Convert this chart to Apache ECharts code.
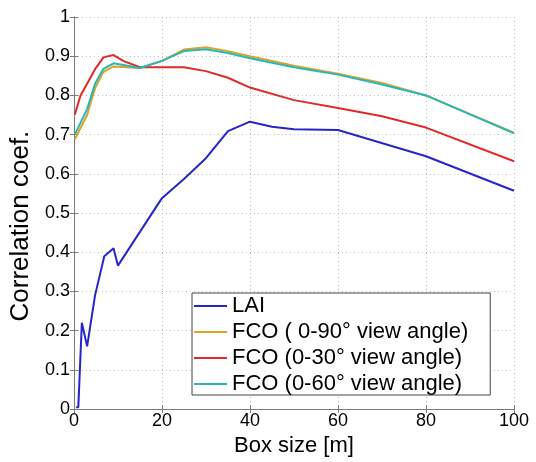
<!DOCTYPE html>
<html>
  <head>
    <meta charset="utf-8" />
    <title>Correlation coef. vs Box size</title>
    <script src="https://cdn.jsdelivr.net/npm/echarts@6/dist/echarts.min.js"></script>
    <style>
      html,
      body {
        margin: 0;
        padding: 0;
        background: #fff;
      }
      #chart {
        width: 536px;
        height: 462px;
      }
    </style>
  </head>
  <body>
    <div id="chart"></div>
    <script type="text/javascript">
      // 读图得到的数据
      const seriesNames = ["LAI", "FCO ( 0-90° view angle)", "FCO (0-30° view angle)", "FCO (0-60° view angle)"]
      const seriesColors = ["#2626c8", "#dea326", "#e02a2a", "#26b8b8"]

      const laiX = [0.5, 1, 1.8, 3, 4.8, 6.9, 9, 10, 20, 25, 30, 35, 40, 45, 50, 60, 80, 100]
      const laiY = [0.005, 0.005, 0.22, 0.16, 0.29, 0.39, 0.41, 0.366, 0.538, 0.587, 0.64, 0.709, 0.733, 0.72, 0.714, 0.712, 0.645, 0.557]

      const fco30X = [0.2, 1.5, 3, 4.8, 6.7, 9, 11.2, 15, 25, 30, 35, 40, 50, 60, 70, 80, 100]
      const fco30Y = [0.751, 0.8, 0.83, 0.867, 0.897, 0.903, 0.888, 0.872, 0.872, 0.862, 0.845, 0.82, 0.788, 0.768, 0.747, 0.718, 0.632]

      const fcoX = [0.2, 3, 4.8, 6.7, 9, 15, 20, 25, 30, 35, 40, 50, 60, 70, 80, 100]
      const fco90Y = [0.688, 0.75, 0.818, 0.86, 0.874, 0.87, 0.888, 0.917, 0.923, 0.913, 0.9, 0.876, 0.855, 0.832, 0.8, 0.705]
      const fco60Y = [0.7, 0.765, 0.83, 0.868, 0.882, 0.87, 0.888, 0.913, 0.918, 0.908, 0.895, 0.872, 0.853, 0.828, 0.8, 0.703]

      function pairs(xs, ys) {
        return xs.map((x, i) => [x, ys[i]])
      }

      const font = "'Liberation Sans', Arial, sans-serif"
      const axisColor = "#7a7a7a"

      const myChart = echarts.init(document.getElementById("chart"), null, { renderer: "canvas" })

      const sideAxis = {
        type: "value",
        min: 0,
        axisLine: { show: true, lineStyle: { color: axisColor } },
        axisTick: { show: true, inside: true, length: 4, lineStyle: { color: axisColor } },
        axisLabel: { show: false },
        splitLine: { show: false }
      }

      const option = {
        animation: false,
        backgroundColor: "#fff",
        grid: {
          left: 68.5,
          right: 22,
          top: 17,
          bottom: 45,
          containLabel: false
        },
        legend: {
          left: 192,
          top: 293,
          orient: "vertical",
          icon: "rect",
          itemWidth: 33,
          itemHeight: 2,
          itemGap: 4,
          padding: [2, 22, 0, 2],
          backgroundColor: "#fff",
          borderColor: "#444",
          borderWidth: 1,
          borderRadius: 0,
          textStyle: { fontFamily: font, fontSize: 22, color: "#000" },
          data: seriesNames
        },
        xAxis: [
          {
            type: "value",
            min: 0,
            max: 100,
            interval: 20,
            name: "Box size [m]",
            nameLocation: "middle",
            nameGap: 12,
            nameTextStyle: { fontFamily: font, fontSize: 22, color: "#000" },
            axisLine: { show: true, onZero: false, lineStyle: { color: axisColor } },
            axisTick: { show: true, inside: true, length: 4, lineStyle: { color: axisColor } },
            axisLabel: { fontFamily: font, fontSize: 18, color: "#000", margin: 3 },
            splitLine: { show: true, lineStyle: { color: "#b8b8b8", type: [1, 3] } }
          },
          Object.assign({}, sideAxis, { position: "top", max: 100, interval: 20 })
        ],
        yAxis: [
          {
            type: "value",
            min: 0,
            max: 1,
            interval: 0.1,
            name: "Correlation coef.",
            nameLocation: "middle",
            nameGap: 33,
            nameTextStyle: { fontFamily: font, fontSize: 26, color: "#000", padding: [0, 26, 0, 0] },
            axisLine: { show: true, onZero: false, lineStyle: { color: axisColor } },
            axisTick: { show: true, inside: true, length: 4, lineStyle: { color: axisColor } },
            axisLabel: { fontFamily: font, fontSize: 18, color: "#000", margin: 4 },
            splitLine: { show: true, lineStyle: { color: "#b8b8b8", type: [1, 3] } }
          },
          Object.assign({}, sideAxis, { position: "right", max: 1, interval: 0.1 })
        ],
        series: [
          {
            name: seriesNames[0],
            type: "line",
            symbol: "none",
            lineStyle: { width: 2 },
            itemStyle: { color: seriesColors[0] },
            data: pairs(laiX, laiY)
          },
          {
            name: seriesNames[1],
            type: "line",
            symbol: "none",
            lineStyle: { width: 2 },
            itemStyle: { color: seriesColors[1] },
            data: pairs(fcoX, fco90Y)
          },
          {
            name: seriesNames[2],
            type: "line",
            symbol: "none",
            lineStyle: { width: 2 },
            itemStyle: { color: seriesColors[2] },
            data: pairs(fco30X, fco30Y)
          },
          {
            name: seriesNames[3],
            type: "line",
            symbol: "none",
            lineStyle: { width: 2 },
            itemStyle: { color: seriesColors[3] },
            data: pairs(fcoX, fco60Y)
          }
        ]
      }

      myChart.setOption(option)
    </script>
  </body>
</html>
